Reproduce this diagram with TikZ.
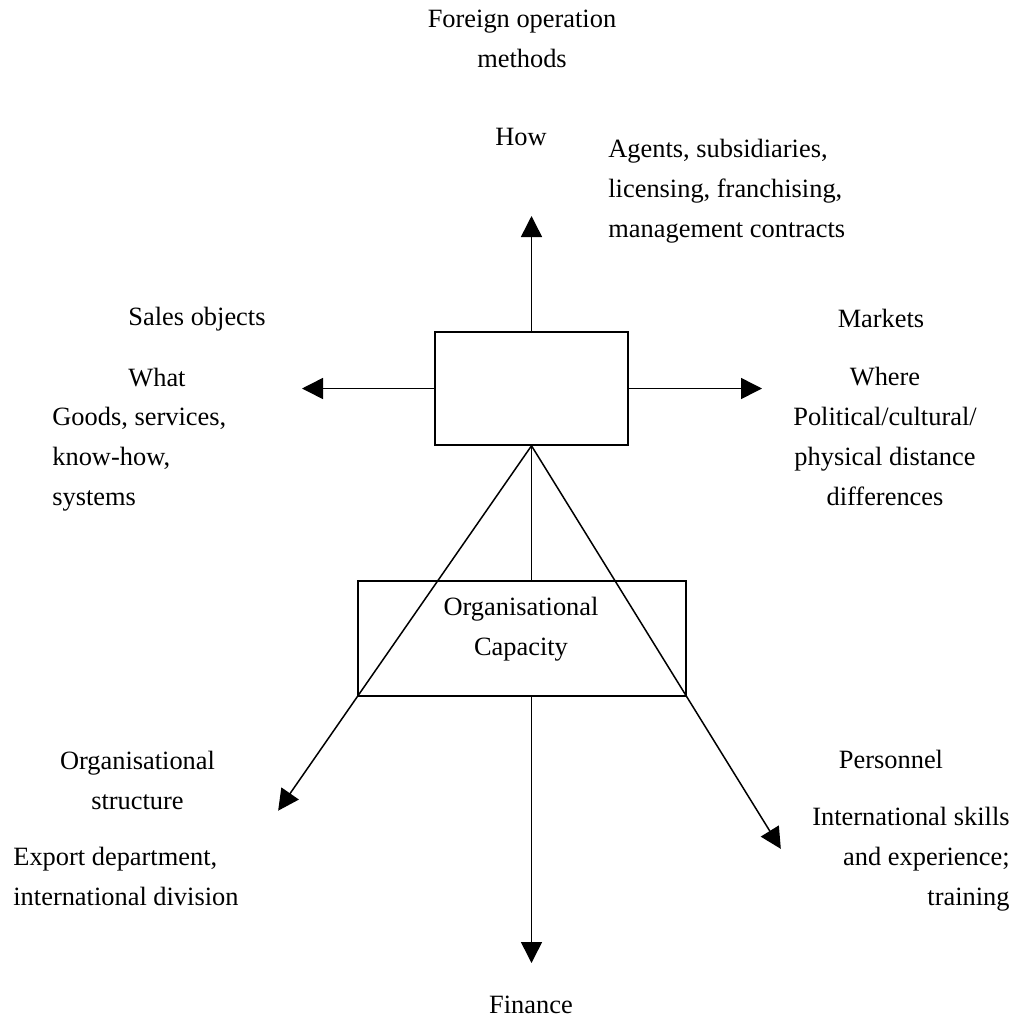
\documentclass[tikz,border=0pt]{standalone}
\usepackage{fontspec}
\setmainfont{Liberation Serif}
\usetikzlibrary{arrows.meta,calc}

\begin{document}
\begin{tikzpicture}[x=0.5pt,y=-0.5pt,
  box/.style={draw,line width=0.75pt,inner sep=0pt},
  lbl/.style={inner sep=0pt,font=\fontsize{13.2}{20}\selectfont},
  arr/.style={line width=0.75pt,-{Triangle[length=10.5pt,width=10.5pt]}}]
\useasboundingbox (0,0) rectangle (1014,1023);

  % boxes
  \node[box,minimum width=96.5pt,minimum height=56.5pt] (core) at (531.5,388.5) {};
  \node[box,minimum width=164pt,minimum height=57.5pt] (cap) at (522,638.5) {};
  \node[lbl,anchor=north,align=center] (captxt) at (521,597) {Organisational\\Capacity};

  % arrow ends
  \coordinate (how)   at (531.5,216);
  \coordinate (what)  at (302,388.5);
  \coordinate (where) at (762,388.5);
  \coordinate (fin)   at (531.5,963);

  \draw[arr] (core.north) -- (how);
  \draw[arr] (core.west) -- (what);
  \draw[arr] (core.east) -- (where);
  \draw[line width=0.75pt] (core.south) -- (core.south |- cap.north);
  \draw[arr] (core.south |- cap.south) -- (fin);
  \draw[arr] (core.south) -- ($(core.south)!1.454!(cap.south west)$);
  \draw[arr] (core.south) -- ($(core.south)!1.606!(cap.south east)$);

  % labels
  \node[lbl,anchor=north,align=center] (fom) at (522,10) {Foreign operation\\methods};
  \node[lbl,anchor=north] (howtxt) at (521,127.5) {How};
  \node[lbl,anchor=north west,align=left] (agents) at (608,139) {Agents, subsidiaries,\\licensing, franchising,\\management contracts};

  \node[lbl,anchor=north] (sales) at (197,307) {Sales objects};
  \node[lbl,anchor=north west] (whattxt) at (128,367.5) {What};
  \node[lbl,anchor=north west,align=left] (goods) at (52,407) {Goods, services,\\know-how,\\systems};

  \node[lbl,anchor=north] (markets) at (881,309) {Markets};
  \node[lbl,anchor=north,align=center] (wheretxt) at (885,367) {Where\\Political/cultural/\\physical distance\\differences};

  \node[lbl,anchor=north,align=center] (orgstr) at (137.5,751) {Organisational\\structure};
  \node[lbl,anchor=north west,align=left] (export) at (13,847) {Export department,\\international division};

  \node[lbl,anchor=north] (personnel) at (891,750) {Personnel};
  \node[lbl,anchor=north east,align=right] (skills) at (1010,807) {International skills\\and experience;\\training};

  \node[lbl,anchor=north] (fintxt) at (531,996) {Finance};
\end{tikzpicture}
\end{document}
